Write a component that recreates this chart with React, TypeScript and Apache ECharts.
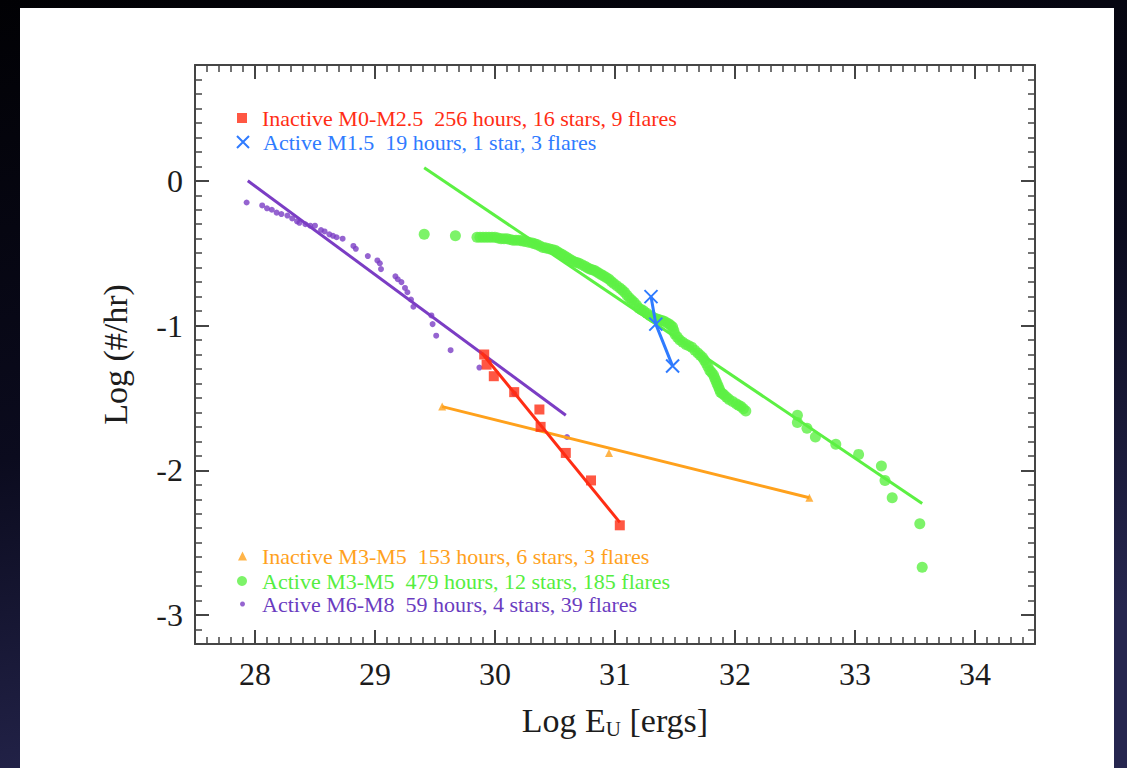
import React, { useEffect, useRef } from "react";
import * as echarts from "echarts";

const SERIF = "'Liberation Serif', 'Times New Roman', serif";
const INK = "#1c1c1c";
const FRAME = "#454545";

// Axis ranges and labelled ticks
const xRange = [27.5, 34.5];
const yRange = [-3.2, 0.8];
const xTickValues = [28, 29, 30, 31, 32, 33, 34];
const yTickValues = [-3, -2, -1, 0];

// Series labels
const labelM0 = "Inactive M0-M2.5  256 hours, 16 stars, 9 flares";
const labelM15 = "Active M1.5  19 hours, 1 star, 3 flares";
const labelM3i = "Inactive M3-M5  153 hours, 6 stars, 3 flares";
const labelM3a = "Active M3-M5  479 hours, 12 stars, 185 flares";
const labelM6 = "Active M6-M8  59 hours, 4 stars, 39 flares";

// Colours
const RED = "#ff2d14";
const BLUE = "#2f7bff";
const ORANGE = "#ffa11c";
const GREEN = "#5cf043";
const PURPLE = "#7b3dc4";

// Inactive M0-M2.5 cumulative flare rate
const m0X = [29.91, 29.93, 29.99, 30.16, 30.37, 30.38, 30.59, 30.8, 31.04];
const m0Y = [-1.2, -1.27, -1.35, -1.46, -1.58, -1.7, -1.88, -2.07, -2.38];
const m0FitX = [29.89, 31.04];
const m0FitY = [-1.19, -2.36];

// Active M1.5
const m15X = [31.3, 31.34, 31.48];
const m15Y = [-0.8, -0.99, -1.28];

// Inactive M3-M5
const m3iX = [29.56, 30.95, 32.62];
const m3iY = [-1.56, -1.88, -2.19];
const m3iFitX = [29.56, 32.62];
const m3iFitY = [-1.56, -2.19];

// Active M3-M5
const m3aX = [
  29.41, 29.67,
  29.85, 29.875, 29.9, 29.925, 29.95, 29.975, 30.0, 30.025, 30.05, 30.075,
  30.1, 30.125, 30.15, 30.175, 30.2, 30.225, 30.25, 30.28, 30.31, 30.33,
  30.35, 30.375, 30.4, 30.425, 30.45, 30.475, 30.5, 30.52, 30.54, 30.56,
  30.58, 30.6, 30.62, 30.64, 30.66, 30.68, 30.7, 30.725, 30.75, 30.77,
  30.79, 30.81, 30.83, 30.85, 30.87, 30.89, 30.91, 30.93, 30.95, 30.97,
  30.99, 31.015, 31.04, 31.06, 31.08, 31.1, 31.12, 31.14, 31.16, 31.18,
  31.2, 31.22, 31.24, 31.265, 31.29, 31.31, 31.33, 31.35, 31.37, 31.39,
  31.41, 31.43, 31.45, 31.465, 31.48, 31.49, 31.5, 31.52, 31.54, 31.565,
  31.59, 31.615, 31.64, 31.665, 31.69, 31.71, 31.73, 31.745, 31.76, 31.775,
  31.79, 31.805, 31.82, 31.83, 31.84, 31.85, 31.86, 31.87, 31.88, 31.895,
  31.91, 31.93, 31.95, 31.98, 32.01, 32.03, 32.05, 32.07, 32.09,
  32.52, 32.52, 32.6, 32.67, 32.84, 33.03, 33.22, 33.25, 33.31, 33.54, 33.56,
];
const m3aY = [
  -0.37, -0.38,
  -0.39, -0.39, -0.39, -0.39, -0.39, -0.39, -0.39, -0.395, -0.4, -0.4,
  -0.4, -0.405, -0.41, -0.41, -0.41, -0.415, -0.42, -0.425, -0.43, -0.435,
  -0.44, -0.45, -0.46, -0.465, -0.47, -0.475, -0.48, -0.49, -0.5, -0.51,
  -0.52, -0.53, -0.54, -0.55, -0.56, -0.565, -0.57, -0.58, -0.59, -0.6,
  -0.61, -0.615, -0.62, -0.63, -0.64, -0.65, -0.66, -0.67, -0.68, -0.695,
  -0.71, -0.725, -0.74, -0.755, -0.77, -0.79, -0.81, -0.825, -0.84, -0.86,
  -0.88, -0.89, -0.9, -0.915, -0.93, -0.94, -0.95, -0.955, -0.96, -0.965,
  -0.97, -0.98, -0.99, -1.0, -1.01, -1.035, -1.06, -1.08, -1.1, -1.115,
  -1.13, -1.14, -1.15, -1.17, -1.19, -1.205, -1.22, -1.24, -1.26, -1.285,
  -1.31, -1.325, -1.34, -1.36, -1.38, -1.4, -1.42, -1.44, -1.46, -1.47,
  -1.48, -1.495, -1.51, -1.525, -1.54, -1.55, -1.56, -1.575, -1.59,
  -1.62, -1.67, -1.71, -1.77, -1.82, -1.89, -1.97, -2.07, -2.19, -2.37, -2.67,
];
const m3aFitX = [29.41, 33.56];
const m3aFitY = [0.09, -2.23];

// Active M6-M8
const m6X = [
  27.93, 28.06, 28.1, 28.14, 28.18, 28.22, 28.27, 28.31, 28.35, 28.37,
  28.42, 28.46, 28.5, 28.55, 28.58, 28.62, 28.65, 28.68, 28.73, 28.82,
  28.84, 28.94, 29.02, 29.04, 29.05, 29.17, 29.19, 29.22, 29.25, 29.27,
  29.3, 29.32, 29.47, 29.48, 29.51, 29.63, 29.87, 30.16, 30.6,
];
const m6Y = [
  -0.15, -0.17, -0.19, -0.2, -0.22, -0.23, -0.24, -0.26, -0.28, -0.29,
  -0.3, -0.31, -0.31, -0.34, -0.35, -0.37, -0.38, -0.39, -0.4, -0.45,
  -0.47, -0.52, -0.55, -0.57, -0.61, -0.66, -0.68, -0.7, -0.74, -0.77,
  -0.82, -0.87, -0.93, -0.99, -1.07, -1.17, -1.29, -1.47, -1.77,
];
const m6FitX = [27.94, 30.59];
const m6FitY = [0.0, -1.62];

const pairs = (xs: number[], ys: number[]) => xs.map((x, i) => [x, ys[i]]);

const xPath = "path://M0,0L10,10M10,0L0,10";

function fitLine(xs: number[], ys: number[], color: string) {
  return {
    type: "line",
    data: pairs(xs, ys),
    showSymbol: false,
    symbol: "none",
    lineStyle: { color, width: 3 },
    silent: true,
    z: 3,
  };
}

function legendBox(
  name: string,
  icon: string,
  size: number,
  color: string,
  left: number,
  top: number,
  pad: number,
  itemStyle?: any
) {
  return {
    show: true,
    selectedMode: false,
    orient: "vertical",
    left,
    top,
    padding: 0,
    itemWidth: size,
    itemHeight: size,
    data: [{ name, icon, itemStyle }],
    textStyle: {
      color,
      fontFamily: SERIF,
      fontSize: 22,
      padding: [0, 0, 0, pad],
    },
  };
}

function baseAxis(extra: any) {
  return {
    type: "value",
    splitLine: { show: false },
    axisLine: { show: true, onZero: false, lineStyle: { color: FRAME, width: 2 } },
    ...extra,
  };
}

// Unlabelled axis carrying the 0.1-step minor ticks along one side of the frame
function minorAxis(position: string, range: number[]) {
  return baseAxis({
    position,
    min: range[0],
    max: range[1],
    interval: 0.1,
    axisLine: { show: false, onZero: false },
    axisTick: {
      show: true,
      inside: true,
      length: 7,
      lineStyle: { color: FRAME, width: 1.5 },
    },
    axisLabel: { show: false },
  });
}

export default function App() {
  const ref = useRef<HTMLDivElement>(null);

  useEffect(() => {
    if (!ref.current) return;
    const chart = echarts.init(ref.current, undefined, { renderer: "svg" });

    const majorTick = (values: number[]) => ({
      show: true,
      inside: true,
      length: 14,
      customValues: values,
      lineStyle: { color: FRAME, width: 2 },
    });

    const option: any = {
      animation: false,
      backgroundColor: new echarts.graphic.LinearGradient(0, 0, 0.3, 1, [
        { offset: 0, color: "#010104" },
        { offset: 0.55, color: "#0b0b1e" },
        { offset: 1, color: "#26264f" },
      ]),
      graphic: [
        {
          type: "rect",
          z: -10,
          shape: { x: 20, y: 8, width: 1094, height: 770 },
          style: { fill: "#ffffff" },
          silent: true,
        },
      ],
      grid: { left: 195, top: 65, right: 92, bottom: 124, containLabel: false },
      xAxis: [
        baseAxis({
          position: "bottom",
          min: xRange[0],
          max: xRange[1],
          axisTick: majorTick(xTickValues),
          axisLabel: {
            customValues: xTickValues,
            margin: 14,
            color: INK,
            fontFamily: SERIF,
            fontSize: 32,
          },
          name: "{t|Log E}{s|U}{t| [ergs]}",
          nameLocation: "middle",
          nameGap: 58,
          nameTextStyle: {
            rich: {
              t: { fontFamily: SERIF, fontSize: 34, color: INK },
              s: { fontFamily: SERIF, fontSize: 21, color: INK, padding: [16, 0, 0, 0] },
            },
          },
        }),
        baseAxis({
          position: "top",
          min: xRange[0],
          max: xRange[1],
          axisTick: majorTick(xTickValues),
          axisLabel: { show: false },
        }),
        minorAxis("bottom", xRange),
        minorAxis("top", xRange),
      ],
      yAxis: [
        baseAxis({
          position: "left",
          min: yRange[0],
          max: yRange[1],
          axisTick: majorTick(yTickValues),
          axisLabel: {
            customValues: yTickValues,
            margin: 12,
            color: INK,
            fontFamily: SERIF,
            fontSize: 32,
          },
          name: "Log (#/hr)",
          nameLocation: "middle",
          nameGap: 63,
          nameTextStyle: { fontFamily: SERIF, fontSize: 34, color: INK },
        }),
        baseAxis({
          position: "right",
          min: yRange[0],
          max: yRange[1],
          axisTick: majorTick(yTickValues),
          axisLabel: { show: false },
        }),
        minorAxis("left", yRange),
        minorAxis("right", yRange),
      ],
      legend: [
        legendBox(labelM0, "rect", 10, RED, 237, 107, 10),
        legendBox(labelM15, xPath, 12, BLUE, 236, 131, 9, {
          color: BLUE,
          borderColor: BLUE,
          borderWidth: 2,
        }),
        legendBox(labelM3i, "triangle", 9, ORANGE, 238, 545, 10),
        legendBox(labelM3a, "circle", 10, "#55ee40", 237, 570, 10),
        legendBox(labelM6, "circle", 5, "#6a3cc0", 240, 593, 12),
      ],
      series: [
        {
          name: labelM3a,
          type: "scatter",
          data: pairs(m3aX, m3aY),
          symbol: "circle",
          symbolSize: 11,
          itemStyle: { color: GREEN },
          z: 2,
        },
        fitLine(m3aFitX, m3aFitY, GREEN),
        {
          name: labelM6,
          type: "scatter",
          data: pairs(m6X, m6Y),
          symbol: "circle",
          symbolSize: 6,
          itemStyle: { color: PURPLE },
          z: 2,
        },
        fitLine(m6FitX, m6FitY, PURPLE),
        fitLine(m3iFitX, m3iFitY, ORANGE),
        {
          name: labelM3i,
          type: "scatter",
          data: pairs(m3iX, m3iY),
          symbol: "triangle",
          symbolSize: 8,
          itemStyle: { color: ORANGE },
          z: 4,
        },
        fitLine(m0FitX, m0FitY, RED),
        {
          name: labelM0,
          type: "scatter",
          data: pairs(m0X, m0Y),
          symbol: "rect",
          symbolSize: 10,
          itemStyle: { color: RED },
          z: 5,
        },
        {
          name: labelM15,
          type: "line",
          data: pairs(m15X, m15Y),
          symbol: xPath,
          symbolSize: 13,
          showSymbol: true,
          lineStyle: { color: BLUE, width: 3 },
          itemStyle: { color: BLUE, borderColor: BLUE, borderWidth: 2 },
          z: 6,
        },
      ],
    };

    chart.setOption(option);
    return () => chart.dispose();
  }, []);

  return (
    <div
      ref={ref}
      style={{ position: "fixed", left: 0, top: 0, width: 1127, height: 768 }}
    />
  );
}
